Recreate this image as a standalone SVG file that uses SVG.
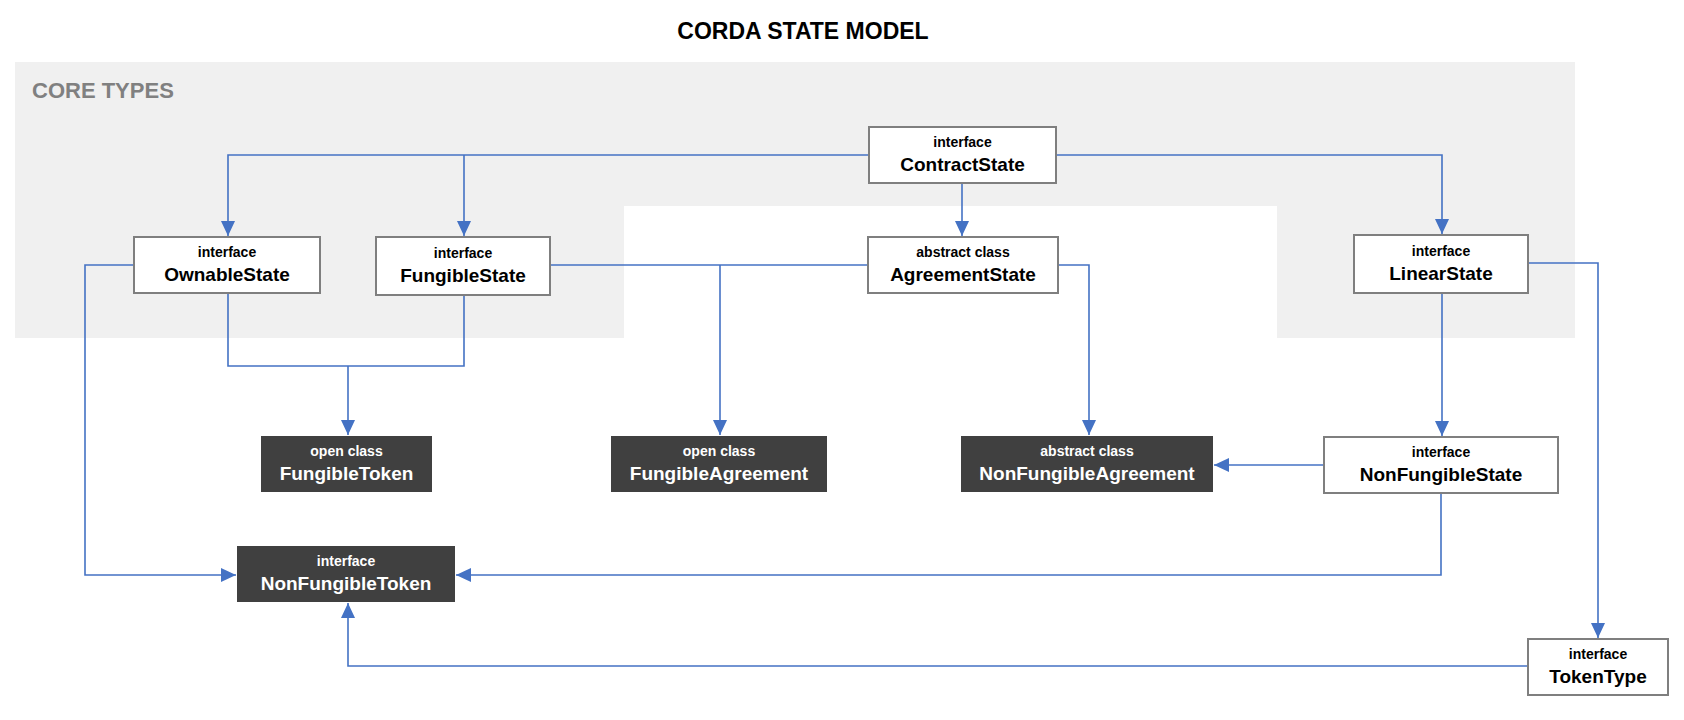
<svg xmlns="http://www.w3.org/2000/svg" width="1684" height="720" viewBox="0 0 1684 720">
<style>
.box{fill:#ffffff;stroke:#7f7f7f;stroke-width:2}
.dark{fill:#404040;stroke:none}
.kind{font-family:"Liberation Sans",Arial,sans-serif;font-size:14px;font-weight:bold;text-anchor:middle;fill:#000}
.name{font-family:"Liberation Sans",Arial,sans-serif;font-size:19px;font-weight:bold;text-anchor:middle;fill:#000}
.dark-t{fill:#ffffff}
.conn{fill:none;stroke:#4472c4;stroke-width:1.6}
</style>
<defs>
<marker id="arr" markerUnits="userSpaceOnUse" markerWidth="15" markerHeight="14" refX="15" refY="7" orient="auto">
<path d="M0,0 L15,7 L0,14 z" fill="#4472c4"/>
</marker>
</defs>
<rect width="1684" height="720" fill="#ffffff"/>
<g id="core-types">
<path d="M15,62 H1575 V338 H1277 V206 H624 V338 H15 Z" fill="#f0f0f0"/>
<text x="32" y="98" font-family="Liberation Sans,Arial,sans-serif" font-size="22" font-weight="bold" fill="#808080">CORE TYPES</text>
</g>
<text id="title" x="803" y="39" font-family="Liberation Sans,Arial,sans-serif" font-size="23" font-weight="bold" text-anchor="middle" fill="#000">CORDA STATE MODEL</text>
<g id="connectors">
<path class="conn" d="M869,155 H228 V236" marker-end="url(#arr)"/>
<path class="conn" d="M464,155 V236" marker-end="url(#arr)"/>
<path class="conn" d="M962,183 V236" marker-end="url(#arr)"/>
<path class="conn" d="M1056,155 H1442 V234" marker-end="url(#arr)"/>
<path class="conn" d="M134,265 H85 V575 H236" marker-end="url(#arr)"/>
<path class="conn" d="M228,293 V366 H464 V295"/>
<path class="conn" d="M348,366 V435" marker-end="url(#arr)"/>
<path class="conn" d="M550,265 H868"/>
<path class="conn" d="M720,265 V435" marker-end="url(#arr)"/>
<path class="conn" d="M1058,265 H1089 V435" marker-end="url(#arr)"/>
<path class="conn" d="M1442,293 V436" marker-end="url(#arr)"/>
<path class="conn" d="M1528,263 H1598 V638" marker-end="url(#arr)"/>
<path class="conn" d="M1324,465 H1214" marker-end="url(#arr)"/>
<path class="conn" d="M1441,493 V575 H456" marker-end="url(#arr)"/>
<path class="conn" d="M1528,666 H348 V603" marker-end="url(#arr)"/>
</g>
<g id="ContractState">
<rect class="box" x="869" y="127" width="187" height="56"/>
<text class="kind" x="962.5" y="147">interface</text>
<text class="name" x="962.5" y="171">ContractState</text>
</g>
<g id="OwnableState">
<rect class="box" x="134" y="237" width="186" height="56"/>
<text class="kind" x="227" y="257">interface</text>
<text class="name" x="227" y="281">OwnableState</text>
</g>
<g id="FungibleState">
<rect class="box" x="376" y="237" width="174" height="58"/>
<text class="kind" x="463" y="258">interface</text>
<text class="name" x="463" y="282">FungibleState</text>
</g>
<g id="AgreementState">
<rect class="box" x="868" y="237" width="190" height="56"/>
<text class="kind" x="963" y="257">abstract class</text>
<text class="name" x="963" y="281">AgreementState</text>
</g>
<g id="LinearState">
<rect class="box" x="1354" y="235" width="174" height="58"/>
<text class="kind" x="1441" y="256">interface</text>
<text class="name" x="1441" y="280">LinearState</text>
</g>
<g id="FungibleToken">
<rect class="dark" x="261" y="436" width="171" height="56"/>
<text class="kind dark-t" x="346.5" y="456">open class</text>
<text class="name dark-t" x="346.5" y="480">FungibleToken</text>
</g>
<g id="FungibleAgreement">
<rect class="dark" x="611" y="436" width="216" height="56"/>
<text class="kind dark-t" x="719" y="456">open class</text>
<text class="name dark-t" x="719" y="480">FungibleAgreement</text>
</g>
<g id="NonFungibleAgreement">
<rect class="dark" x="961" y="436" width="252" height="56"/>
<text class="kind dark-t" x="1087" y="456">abstract class</text>
<text class="name dark-t" x="1087" y="480">NonFungibleAgreement</text>
</g>
<g id="NonFungibleState">
<rect class="box" x="1324" y="437" width="234" height="56"/>
<text class="kind" x="1441" y="457">interface</text>
<text class="name" x="1441" y="481">NonFungibleState</text>
</g>
<g id="NonFungibleToken">
<rect class="dark" x="237" y="546" width="218" height="56"/>
<text class="kind dark-t" x="346" y="566">interface</text>
<text class="name dark-t" x="346" y="590">NonFungibleToken</text>
</g>
<g id="TokenType">
<rect class="box" x="1528" y="639" width="140" height="56"/>
<text class="kind" x="1598" y="659">interface</text>
<text class="name" x="1598" y="683">TokenType</text>
</g>
</svg>
